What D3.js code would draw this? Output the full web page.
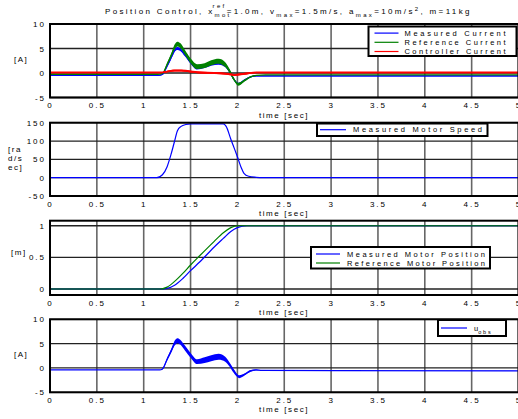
<!DOCTYPE html>
<html>
<head>
<meta charset="utf-8">
<script src="https://cdn.jsdelivr.net/npm/d3@7"></script>
<style>
body { margin: 0; background: #fff; }
text { font-family: Arial, "Liberation Sans", sans-serif; fill: #000; }
</style>
</head>
<body>
<div id="chart"></div>
<script>
// x axis
const xTicks = [0, 0.5, 1, 1.5, 2, 2.5, 3, 3.5, 4, 4.5, 5];

// panel 1: currents [A]
const timeCur = [0, 1.15, 1.2, 1.25, 1.3, 1.33, 1.36, 1.39, 1.44, 1.5, 1.57, 1.65, 1.72, 1.8, 1.87, 1.92, 1.96, 2.01, 2.08, 2.14, 2.2, 2.3, 5];
const measuredCurrent = [-0.5, -0.5, -0.3, 1.4, 3.4, 4.6, 5.0, 4.8, 3.7, 2.2, 1.0, 1.3, 1.8, 2.0, 1.5, 0.2, -1.2, -2.2, -1.4, -0.8, -0.6, -0.6, -0.6];
const measuredSpread = [0.1, 0.1, 0.1, 0.2, 0.3, 0.3, 0.3, 0.3, 0.3, 0.3, 0.3, 0.3, 0.3, 0.3, 0.3, 0.3, 0.2, 0.2, 0.2, 0.1, 0.1, 0.1, 0.1];
const referenceCurrent = [-0.3, -0.3, -0.1, 1.8, 3.9, 5.3, 5.9, 5.6, 4.2, 2.5, 1.3, 1.5, 2.1, 2.4, 1.7, 0.3, -1.2, -2.3, -1.5, -0.8, -0.5, -0.4, -0.4];
const referenceSpread = [0, 0, 0.1, 0.3, 0.4, 0.5, 0.5, 0.5, 0.5, 0.5, 0.5, 0.5, 0.5, 0.5, 0.5, 0.4, 0.3, 0.3, 0.2, 0.1, 0.1, 0, 0];
const timeCtrl = [0, 1.18, 1.25, 1.33, 1.4, 1.5, 1.6, 1.75, 1.9, 1.97, 2.02, 2.1, 2.2, 5];
const controllerCurrent = [0.1, 0.1, 0.3, 0.5, 0.5, 0.3, 0.1, 0.0, -0.2, -0.4, -0.3, -0.1, 0.1, 0.1];
const controllerSpread = [0, 0, 0.15, 0.2, 0.2, 0.2, 0.2, 0.2, 0.2, 0.2, 0.2, 0.2, 0.1, 0];
const currentTicks = [-5, 0, 5, 10];

// panel 2: speed [rad/sec]
const timeSpeed = [0, 1.14, 1.2, 1.25, 1.29, 1.33, 1.36, 1.4, 1.45, 1.5, 1.85, 1.88, 1.93, 1.97, 2.0, 2.04, 2.07, 2.12, 2.2, 2.27, 5];
const motorSpeed = [0, 0, 8, 30, 62, 100, 128, 140, 145, 147, 147, 140, 105, 78, 57, 28, 12, 4, 1, 0, 0];
const speedTicks = [-50, 0, 50, 100, 150];

// panel 3: position [m]
const timePos = [0, 1.18, 1.25, 1.33, 1.42, 1.5, 1.6, 1.75, 1.85, 1.93, 2.0, 2.1, 5];
const measuredPosition = [0, 0, 0.01, 0.06, 0.17, 0.29, 0.43, 0.66, 0.8, 0.91, 0.97, 1.0, 1.0];
const referencePosition = [0, 0, 0.03, 0.12, 0.25, 0.38, 0.53, 0.75, 0.89, 0.97, 1.0, 1.0, 1.0];
const positionTicks = [0, 0.5, 1];

// panel 4: u_obs [A]
const timeObs = [0, 1.17, 1.2, 1.25, 1.3, 1.33, 1.36, 1.39, 1.44, 1.5, 1.57, 1.65, 1.72, 1.8, 1.87, 1.92, 1.96, 2.02, 2.08, 2.14, 2.2, 2.26, 5];
const uObs = [-0.4, -0.4, -0.2, 1.8, 3.8, 5.1, 5.6, 5.3, 4.1, 2.6, 1.3, 1.6, 2.0, 2.3, 1.8, 0.6, -0.6, -1.8, -1.3, -0.6, -0.4, -0.5, -0.6];
const uObsSpread = [0, 0, 0.1, 0.3, 0.4, 0.5, 0.5, 0.5, 0.5, 0.5, 0.5, 0.6, 0.6, 0.6, 0.5, 0.4, 0.4, 0.3, 0.2, 0.2, 0.1, 0, 0];

const blue = "#0000ff", green = "#008000", red = "#ff0000";

let width = 518, height = 419;
var svg = d3.select("#chart").append("svg")
	.attr("width", width)
	.attr("height", height);
svg.append("rect").attr("width", width).attr("height", height).attr("fill", "#fff");

var x = d3.scaleLinear().domain([0, 5]).range([50, 518.5]);

function makePanel(p) {
	var y = d3.scaleLinear().domain(p.domain).range([p.bottom, p.top]);
	var g = svg.append("g");

	g.selectAll(".vgrid").data(xTicks).enter()
		.append("line")
		.attr("x1", d => x(d)).attr("x2", d => x(d))
		.attr("y1", p.top).attr("y2", p.bottom)
		.attr("stroke", "#666").attr("stroke-width", 1.6);
	g.selectAll(".hgrid").data(p.ticks).enter()
		.append("line")
		.attr("x1", 50).attr("x2", x(5))
		.attr("y1", d => y(d)).attr("y2", d => y(d))
		.attr("stroke", "#222").attr("stroke-width", 1.3);

	p.series.forEach(s => {
		var pts = s.time.map((t, i) => ({t: t, v: s.values[i], w: s.spread ? s.spread[i] : 0}));
		if (s.spread) {
			g.append("path")
				.datum(pts)
				.attr("fill", s.color)
				.attr("d", d3.area().curve(d3.curveMonotoneX)
					.x(d => x(d.t)).y0(d => y(d.v - d.w)).y1(d => y(d.v + d.w)));
		}
		g.append("path")
			.datum(pts)
			.attr("fill", "none")
			.attr("stroke", s.color)
			.attr("stroke-width", s.width || 1.2)
			.attr("d", d3.line().curve(d3.curveMonotoneX).x(d => x(d.t)).y(d => y(d.v)));
	});

	g.append("rect")
		.attr("x", 50).attr("y", p.top)
		.attr("width", x(5) - 50).attr("height", p.bottom - p.top)
		.attr("fill", "none").attr("stroke", "#000").attr("stroke-width", 2);

	var xAxis = g.append("g")
		.attr("transform", "translate(0," + p.bottom + ")")
		.call(d3.axisBottom(x).tickValues(xTicks).tickSize(0).tickPadding(5).tickFormat(d => String(d)));
	xAxis.select(".domain").remove();
	xAxis.selectAll("text")
		.attr("font-size", 8).attr("font-family", "Arial, sans-serif")
		.style("letter-spacing", "2px");

	var yAxis = g.append("g")
		.attr("transform", "translate(50,0)")
		.call(d3.axisLeft(y).tickValues(p.ticks).tickSize(0).tickPadding(4).tickFormat(d => String(d)));
	yAxis.select(".domain").remove();
	yAxis.selectAll("text")
		.attr("font-size", 8).attr("font-family", "Arial, sans-serif")
		.style("letter-spacing", "2px");

	g.append("text")
		.attr("x", 284).attr("y", p.bottom + 20)
		.attr("text-anchor", "middle")
		.attr("font-size", 8)
		.style("letter-spacing", "1.6px")
		.text("time [sec]");

	p.ylabel.forEach((l, i) => {
		g.append("text")
			.attr("x", p.ylabelX).attr("y", p.ylabelY + i * 9)
			.attr("font-size", 8)
			.style("letter-spacing", "1.5px")
			.text(l);
	});

	var lg = p.legend;
	g.append("rect")
		.attr("x", lg.x).attr("y", lg.y).attr("width", lg.w).attr("height", lg.h)
		.attr("fill", "#fff").attr("stroke", "#000").attr("stroke-width", 2);
	lg.items.forEach((it, i) => {
		var yy = lg.y + lg.first + i * lg.step;
		g.append("line")
			.attr("x1", lg.x + lg.lineFrom).attr("x2", lg.x + lg.lineTo)
			.attr("y1", yy).attr("y2", yy)
			.attr("stroke", it.color).attr("stroke-width", 1.2);
		var t = g.append("text")
			.attr("x", lg.x + lg.textAt).attr("y", yy + 2.7)
			.attr("font-size", 7.5);
		if (it.sub) {
			t.append("tspan").text(it.label);
			t.append("tspan").attr("dy", 3).attr("font-size", 5.5).style("letter-spacing", "1.8px").text(it.sub);
		} else {
			t.attr("textLength", lg.textLen).attr("lengthAdjust", "spacing").text(it.label);
		}
	});
	return y;
}

makePanel({
	top: 24, bottom: 97.5, domain: [-5, 10], ticks: currentTicks,
	ylabel: ["[A]"], ylabelX: 14, ylabelY: 62,
	series: [
		{time: timeCur, values: measuredCurrent, spread: measuredSpread, color: blue},
		{time: timeCur, values: referenceCurrent, spread: referenceSpread, color: green},
		{time: timeCtrl, values: controllerCurrent, spread: controllerSpread, color: red, width: 1.8}
	],
	legend: {x: 368.5, y: 26.5, w: 148, h: 29.5, first: 6.6, step: 9.2, lineFrom: 6, lineTo: 30, textAt: 36, textLen: 101,
		items: [
			{label: "Measured Current", color: blue},
			{label: "Reference Current", color: green},
			{label: "Controller Current", color: red}
		]}
});

makePanel({
	top: 122.7, bottom: 196, domain: [-50, 150], ticks: speedTicks,
	ylabel: ["[ra", "d/s", "ec]"], ylabelX: 8, ylabelY: 152,
	series: [
		{time: timeSpeed, values: motorSpeed, color: blue}
	],
	legend: {x: 317, y: 123.5, w: 170.5, h: 12.5, first: 6.2, step: 9, lineFrom: 3, lineTo: 29, textAt: 36, textLen: 129,
		items: [
			{label: "Measured Motor Speed", color: blue}
		]}
});

makePanel({
	top: 220.7, bottom: 295, domain: [-0.095, 1.08], ticks: positionTicks,
	ylabel: ["[m]"], ylabelX: 11, ylabelY: 255,
	series: [
		{time: timePos, values: measuredPosition, color: blue},
		{time: timePos, values: referencePosition, color: green}
	],
	legend: {x: 311, y: 247, w: 179, h: 21.5, first: 7, step: 9, lineFrom: 5, lineTo: 29, textAt: 36, textLen: 138,
		items: [
			{label: "Measured Motor Position", color: blue},
			{label: "Reference Motor Position", color: green}
		]}
});

makePanel({
	top: 319.3, bottom: 392.3, domain: [-5, 10], ticks: currentTicks,
	ylabel: ["[A]"], ylabelX: 14, ylabelY: 357,
	series: [
		{time: timeObs, values: uObs, spread: uObsSpread, color: blue}
	],
	legend: {x: 438, y: 320, w: 68, h: 16, first: 8, step: 9, lineFrom: 3, lineTo: 29, textAt: 36,
		items: [
			{label: "u", sub: "obs", color: blue}
		]}
});

// title
var title = svg.append("text")
	.attr("x", 105).attr("y", 14)
	.attr("font-size", 8)
	.style("letter-spacing", "2.35px");
title.append("tspan").text("Position Control, x");
var mot = title.append("tspan").attr("dy", 3).attr("font-size", 6).text("mot");
var motW = mot.node().getComputedTextLength();
title.append("tspan").attr("dy", -9).attr("dx", -motW - 2).attr("font-size", 6).text("ref");
title.append("tspan").attr("dy", 6).text("=1.0m, v");
title.append("tspan").attr("dy", 3).attr("font-size", 6).text("max");
title.append("tspan").attr("dy", -3).text("=1.5m/s, a");
title.append("tspan").attr("dy", 3).attr("font-size", 6).text("max");
title.append("tspan").attr("dy", -3).text("=10m/s");
title.append("tspan").attr("dy", -3).attr("font-size", 6).text("2");
title.append("tspan").attr("dy", 3).text(", m=11kg");
</script>
</body>
</html>
